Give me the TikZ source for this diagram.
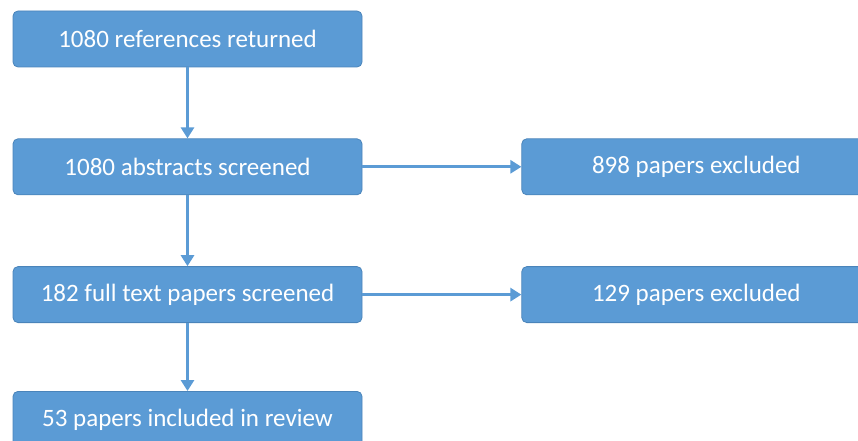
\documentclass[tikz,border=0pt]{standalone}
\usepackage{fontspec}
\setmainfont{Carlito}
\usetikzlibrary{positioning}
\usetikzlibrary{arrows.meta}
\definecolor{boxblue}{HTML}{5B9BD5}
\definecolor{boxedge}{HTML}{4A84BA}

\begin{document}
\begin{tikzpicture}[x=1pt, y=1pt,
                    every node/.style={draw=boxedge, fill=boxblue, rounded corners=5pt,
                        text=white, minimum width=349pt, minimum height=56pt,
                        font=\fontsize{25}{30}\selectfont, line width=0.8pt},
                    flow/.style={draw=boxblue, line width=3pt,
                        -{Triangle[length=11pt,width=13pt]}},
                    node distance=71pt]
            \useasboundingbox (0,0) rectangle (858,-441);
            \clip (0,0) rectangle (858,-441);

            \node (refs) at (187.5,-39) {1080 references returned};
            \node [below=of refs] (abstracts) {1080 abstracts screened};
            \node [below=of abstracts] (fulltext) {182 full text papers screened};
            \node [below=68pt of fulltext] (included) {53 papers included in review};

            \node [right=159pt of abstracts] (excl1) {898 papers excluded};
            \node [right=159pt of fulltext] (excl2) {129 papers excluded};

            \draw [flow] (refs) -- (abstracts);
            \draw [flow] (abstracts) -- (fulltext);
            \draw [flow] (fulltext) -- (included);
            \draw [flow] (abstracts) -- (excl1);
            \draw [flow] (fulltext) -- (excl2);
        \end{tikzpicture}
\end{document}
